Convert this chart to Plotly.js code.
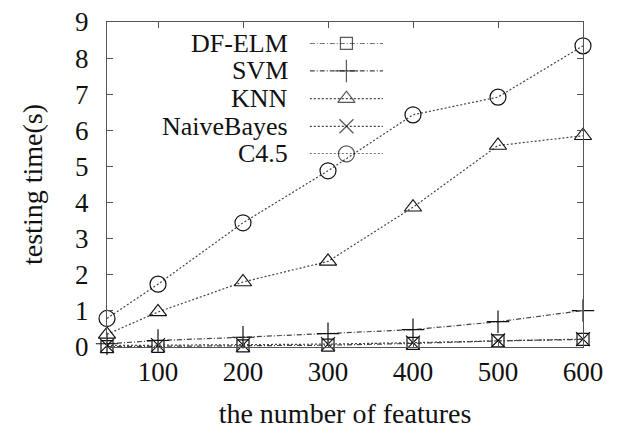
<!DOCTYPE html>
<html><head><meta charset="utf-8">
<script src="https://cdn.plot.ly/plotly-3.0.1.min.js"></script>
<style>html,body{margin:0;padding:0;background:#fff}</style>
</head><body><div id="c" style="width:624px;height:430px"></div>
<script>
const features = [40, 100, 200, 300, 400, 500, 600];
const seriesNames = ["DF-ELM", "SVM", "KNN", "NaiveBayes", "C4.5"];
const dfelm = [0.01, 0.02, 0.03, 0.05, 0.10, 0.17, 0.21];
const svm = [0.09, 0.18, 0.27, 0.37, 0.48, 0.70, 1.01];
const knn = [0.35, 0.97, 1.80, 2.37, 3.87, 5.58, 5.85];
const naiveBayes = [0.04, 0.05, 0.06, 0.08, 0.12, 0.18, 0.22];
const c45 = [0.79, 1.74, 3.44, 4.88, 6.43, 6.92, 8.34];
const xTicks = [100, 200, 300, 400, 500, 600];
const yTicks = [0, 1, 2, 3, 4, 5, 6, 7, 8, 9];

const values = [dfelm, svm, knn, naiveBayes, c45];
const symbols = ["square-open", "cross-thin-open", "triangle-up-open", "x-thin-open", "circle-open"];
const sizes = [12, 16, 15, 14, 16];
const dashDot = "5px,2px,1px,2px";
const dotted = "2px,2px";
const dashes = [dashDot, dashDot, dotted, dotted, dotted];

const font = "Liberation Serif";
const traces = [];
values.forEach((v, i) => {
  traces.push({
    x: features, y: v, type: "scatter", mode: "lines+markers", name: seriesNames[i],
    showlegend: false, cliponaxis: false,
    line: {color: "#444", width: 1.2, dash: dashes[i]},
    marker: {symbol: symbols[i], size: sizes[i], color: "#111", line: {width: 1.2, color: "#111"}}
  });
});
// legend samples on a separate hidden axis pair
const legendRows = [4, 3, 2, 1, 0];
seriesNames.forEach((n, i) => {
  traces.push({
    x: [0, 1, 2], y: [legendRows[i], legendRows[i], legendRows[i]],
    xaxis: "x2", yaxis: "y2", type: "scatter", mode: "lines+markers", showlegend: false,
    hoverinfo: "skip", cliponaxis: false,
    line: {color: "#444", width: 1.2, dash: dashes[i]},
    marker: {symbol: symbols[i], size: [0, sizes[i], 0], color: "#111", line: {width: 1.2, color: "#111"}}
  });
});
const legTop = 0.9345, legStep = 0.0849;
const annotations = seriesNames.map((n, i) => ({
  x: 0.385, y: legTop - i * legStep, xref: "paper", yref: "paper", text: n, showarrow: false,
  xanchor: "right", yanchor: "middle", font: {family: font, size: 26, color: "#111"}
}));

const layout = {
  width: 624, height: 430,
  margin: {l: 107, r: 41, t: 22, b: 83},
  paper_bgcolor: "#fff", plot_bgcolor: "rgba(0,0,0,0)",
  showlegend: false,
  font: {family: font, size: 27, color: "#111"},
  xaxis: {
    range: [40, 600], tickvals: xTicks, ticktext: xTicks.map(String),
    ticks: "inside", ticklen: 6, tickcolor: "#555", showline: true, linecolor: "#555", linewidth: 1,
    mirror: "ticks", showgrid: false, zeroline: false, ticklabelstandoff: 1,
    tickfont: {family: font, size: 27, color: "#111"},
    title: {text: "the number of features", font: {family: font, size: 28, color: "#111"}, standoff: 16}
  },
  yaxis: {
    range: [0, 9], tickvals: yTicks, ticktext: yTicks.map(String),
    ticks: "inside", ticklen: 6, tickcolor: "#555", showline: true, linecolor: "#555", linewidth: 1,
    mirror: "ticks", showgrid: false, zeroline: false, ticklabelstandoff: 12,
    tickfont: {family: font, size: 27, color: "#111"},
    title: {text: "testing time(s)", font: {family: font, size: 28, color: "#111"}, standoff: 24}
  },
  xaxis2: {domain: [0.426, 0.58], range: [0, 2], visible: false, anchor: "y2"},
  yaxis2: {domain: [0.594, 0.9345], range: [0, 4], visible: false, anchor: "x2"},
  annotations: annotations
};
Plotly.newPlot("c", traces, layout, {displayModeBar: false, staticPlot: true});
</script></body></html>
